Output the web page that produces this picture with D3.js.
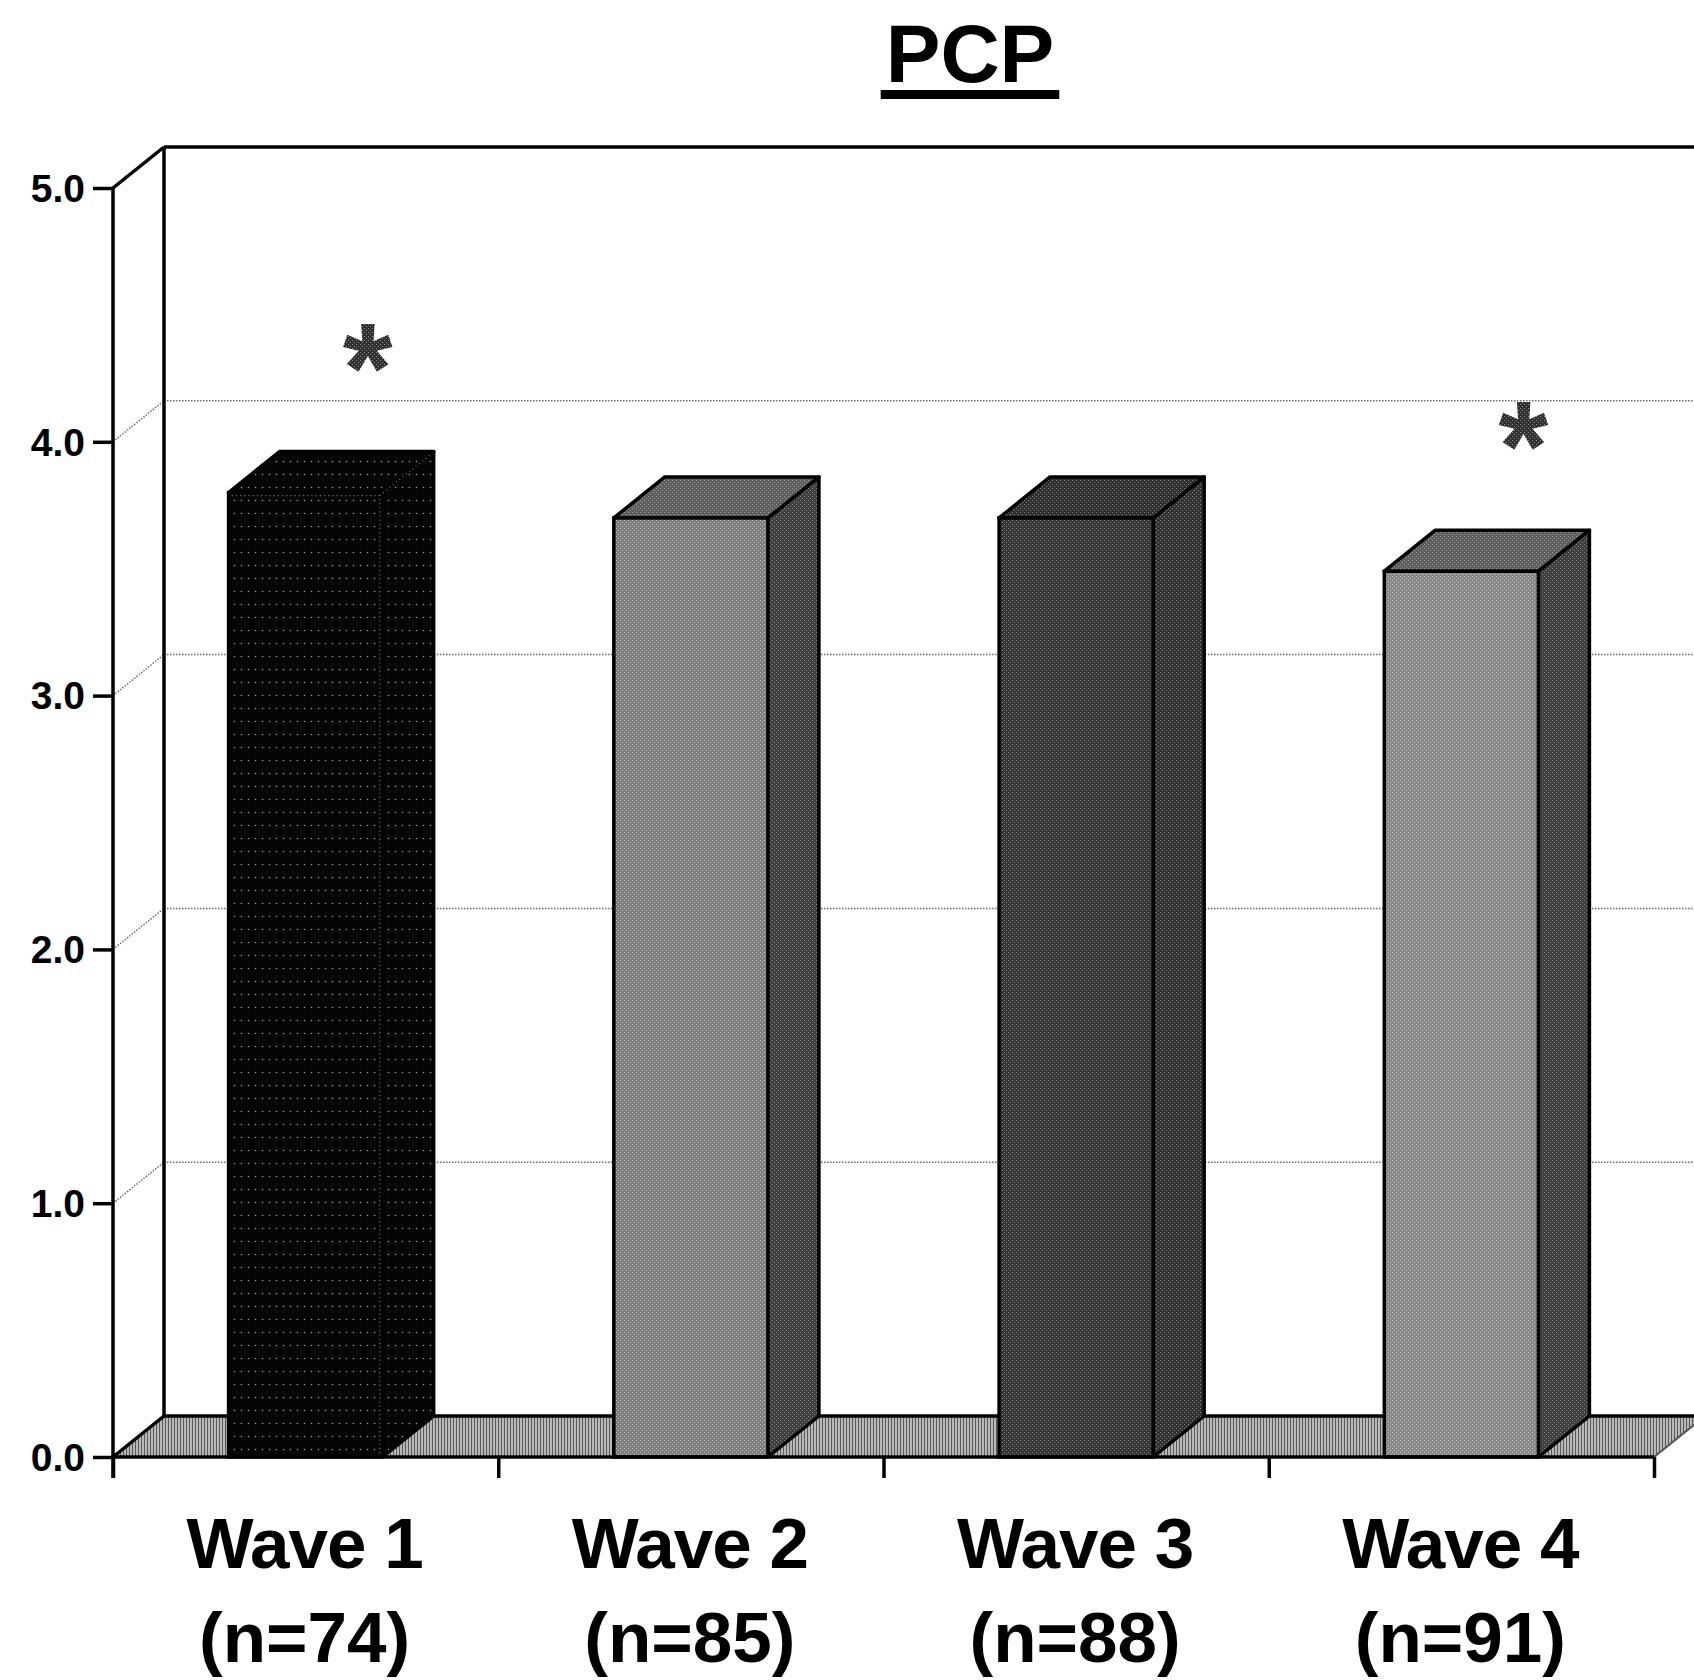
<!DOCTYPE html>
<html>
<head>
<meta charset="utf-8">
<script src="https://cdn.jsdelivr.net/npm/d3@7"></script>
<style>
  html, body { margin: 0; padding: 0; background: #fff; }
  svg { display: block; }
  text { font-family: "Liberation Sans", Arial, Helvetica, sans-serif; font-weight: bold; }
</style>
</head>
<body>
<div id="chart"></div>
<script>
// Mean PCP score by survey wave
const categories = ["Wave 1", "Wave 2", "Wave 3", "Wave 4"];
const sampleSizes = ["(n=74)", "(n=85)", "(n=88)", "(n=91)"];
const means = [3.80, 3.70, 3.70, 3.49];
const significant = [true, false, false, true];
const yTickValues = [0, 1, 2, 3, 4, 5];
const titleText = "PCP";

const width = 1694, height = 1680;
const depthX = 51, depthY = 41;   // oblique depth of the 3-D box
const edge = 3.5;                  // outline weight

const svg = d3.select("#chart").append("svg")
  .attr("width", width).attr("height", height);

const x = d3.scaleBand()
  .domain(categories)
  .range([113, 1654])
  .paddingInner(0.6)
  .paddingOuter(0.3);

const y = d3.scaleLinear().domain([0, 5]).range([1457, 188]);

// ---- fill patterns ----
const defs = svg.append("defs");

const floorPat = defs.append("pattern").attr("id", "floorPat")
  .attr("patternUnits", "userSpaceOnUse").attr("width", 3).attr("height", 3);
floorPat.append("rect").attr("width", 3).attr("height", 3).attr("fill", "#b8b8b8");
floorPat.append("rect").attr("width", 1).attr("height", 3).attr("fill", "#5a5a5a");

const darkPat = defs.append("pattern").attr("id", "darkPat")
  .attr("patternUnits", "userSpaceOnUse").attr("width", 7).attr("height", 13);
darkPat.append("rect").attr("width", 7).attr("height", 13).attr("fill", "#050505");
darkPat.append("circle").attr("cx", 3.5).attr("cy", 6.5).attr("r", 0.8).attr("fill", "#9a9a9a");

function speckle(id, bg, dot, step) {
  const p = defs.append("pattern").attr("id", id)
    .attr("patternUnits", "userSpaceOnUse").attr("width", step * 2).attr("height", step * 2);
  p.append("rect").attr("width", step * 2).attr("height", step * 2).attr("fill", bg);
  p.append("rect").attr("x", 0).attr("y", 0).attr("width", 1).attr("height", 1).attr("fill", dot);
  p.append("rect").attr("x", step).attr("y", step).attr("width", 1).attr("height", 1).attr("fill", dot);
}
speckle("lightFront", "#7e7e7e", "#c8c8c8", 2);
speckle("lightTop", "#5e5e5e", "#a0a0a0", 2);
speckle("lightSide", "#3e3e3e", "#8a8a8a", 2);
speckle("darkFront", "#343434", "#8a8a8a", 2);
speckle("darkTop", "#2e2e2e", "#8a8a8a", 2);
speckle("darkSide", "#303030", "#909090", 2);
speckle("lightFront4", "#888888", "#c8c8c8", 2);
speckle("starFill", "#303030", "#909090", 2);

const barFills = [
  { front: "url(#darkPat)", top: "url(#darkPat)", side: "url(#darkPat)", inner: "#6a6a6a" },
  { front: "url(#lightFront)", top: "url(#lightTop)", side: "url(#lightSide)", inner: "#000" },
  { front: "url(#darkFront)", top: "url(#darkTop)", side: "url(#darkSide)", inner: "#000" },
  { front: "url(#lightFront4)", top: "url(#lightTop)", side: "url(#lightSide)", inner: "#000" }
];

const x0 = x.range()[0], x1 = x.range()[1];
const yBase = y(0), yTop = y(5);

// ---- back wall gridlines and side-wall gridlines ----
const grid = svg.append("g");
yTickValues.filter(v => v > 0 && v < 5).forEach(v => {
  grid.append("line")
    .attr("x1", x0 + depthX).attr("x2", width)
    .attr("y1", y(v) - depthY).attr("y2", y(v) - depthY)
    .attr("stroke", "#6a6a6a").attr("stroke-width", 1.5)
    .attr("stroke-dasharray", "1.5,1.5");
  grid.append("line")
    .attr("x1", x0).attr("x2", x0 + depthX)
    .attr("y1", y(v)).attr("y2", y(v) - depthY)
    .attr("stroke", "#6a6a6a").attr("stroke-width", 1.5)
    .attr("stroke-dasharray", "1.5,1.5");
});

// ---- floor ----
svg.append("path")
  .attr("d", `M${x0},${yBase} L${x1},${yBase} L${x1 + depthX},${yBase - depthY} L${x0 + depthX},${yBase - depthY} Z`)
  .attr("fill", "url(#floorPat)").attr("stroke", "none");
svg.append("line")
  .attr("x1", x0 + depthX).attr("x2", width)
  .attr("y1", yBase - depthY).attr("y2", yBase - depthY)
  .attr("stroke", "#000").attr("stroke-width", edge);
svg.append("line")
  .attr("x1", x0).attr("x2", x0 + depthX)
  .attr("y1", yBase).attr("y2", yBase - depthY)
  .attr("stroke", "#000").attr("stroke-width", edge);
svg.append("line")
  .attr("x1", x1).attr("x2", x1 + depthX)
  .attr("y1", yBase).attr("y2", yBase - depthY)
  .attr("stroke", "#555").attr("stroke-width", 2);

// ---- walls ----
svg.append("line")
  .attr("x1", x0 + depthX).attr("x2", x0 + depthX)
  .attr("y1", yTop - depthY).attr("y2", yBase - depthY)
  .attr("stroke", "#000").attr("stroke-width", edge);
svg.append("line")
  .attr("x1", x0 + depthX).attr("x2", width)
  .attr("y1", yTop - depthY).attr("y2", yTop - depthY)
  .attr("stroke", "#000").attr("stroke-width", edge);
svg.append("line")
  .attr("x1", x0).attr("x2", x0 + depthX)
  .attr("y1", yTop).attr("y2", yTop - depthY)
  .attr("stroke", "#000").attr("stroke-width", edge);

// ---- 3-D columns ----
const bars = svg.append("g").selectAll("g")
  .data(categories.map((c, i) => ({ c, v: means[i], i })))
  .join("g");

bars.each(function (d) {
  const g = d3.select(this);
  const bx0 = x(d.c), bx1 = x(d.c) + x.bandwidth();
  const by = y(d.v);
  const fills = barFills[d.i];
  // side face
  g.append("path")
    .attr("d", `M${bx1},${by} L${bx1 + depthX},${by - depthY} L${bx1 + depthX},${yBase - depthY} L${bx1},${yBase} Z`)
    .attr("fill", fills.side).attr("stroke", "#000").attr("stroke-width", edge)
    .attr("stroke-linejoin", "round");
  // top face
  g.append("path")
    .attr("d", `M${bx0},${by} L${bx1},${by} L${bx1 + depthX},${by - depthY} L${bx0 + depthX},${by - depthY} Z`)
    .attr("fill", fills.top).attr("stroke", "#000").attr("stroke-width", edge)
    .attr("stroke-linejoin", "round");
  // front face
  g.append("rect")
    .attr("x", bx0).attr("y", by)
    .attr("width", bx1 - bx0).attr("height", yBase - by)
    .attr("fill", fills.front).attr("stroke", "#000").attr("stroke-width", edge);
  // faint inner edges where faces meet (visible on the dark column)
  if (fills.inner !== "#000") {
    g.append("path")
      .attr("d", `M${bx0 + 3},${by + 3} L${bx1 - 3},${by + 3} L${bx1 - 3},${yBase - 3} M${bx1 - 3},${by + 3} L${bx1 + depthX - 3},${by - depthY + 3}`)
      .attr("fill", "none").attr("stroke", fills.inner).attr("stroke-width", 1.2)
      .attr("stroke-dasharray", "1.2,3");
  }
});

// ---- significance markers ----
const starSize = 128;
svg.append("g").selectAll("text")
  .data(categories.map((c, i) => ({ c, v: means[i], s: significant[i] })).filter(d => d.s))
  .join("text")
  .attr("x", d => x(d.c) + x.bandwidth() / 2 + 62)
  .attr("y", d => y(d.v) - 152 + starSize * 0.555)
  .attr("text-anchor", "middle")
  .attr("font-size", starSize)
  .attr("fill", "url(#starFill)")
  .text("*");

// ---- axes ----
const yAxis = d3.axisLeft(y).tickValues(yTickValues)
  .tickFormat(d3.format(".1f")).tickSize(20).tickPadding(8);
const yg = svg.append("g").attr("transform", `translate(${x0},0)`).call(yAxis);
yg.select(".domain").attr("d", `M0,${yTop}V${yBase + 21}`).attr("stroke", "#000").attr("stroke-width", edge);
yg.selectAll(".tick line").attr("stroke", "#000").attr("stroke-width", edge);
yg.selectAll(".tick text")
  .attr("font-size", 39).attr("fill", "#000")
  .attr("font-family", "'Liberation Sans', Arial, sans-serif")
  .attr("font-weight", "bold")
  .attr("dy", "0.34em");

// category axis: ticks sit between the categories
const xBoundary = d3.scaleLinear().domain([0, categories.length]).range([x0, x1]);
const xAxis = d3.axisBottom(xBoundary).tickValues(d3.range(0, categories.length + 1))
  .tickSize(21).tickFormat("");
const xg = svg.append("g").attr("transform", `translate(0,${yBase})`).call(xAxis);
xg.select(".domain").attr("d", `M${x0},0H${x1}`).attr("stroke", "#000").attr("stroke-width", edge);
xg.selectAll(".tick line").attr("stroke", "#000").attr("stroke-width", edge);

// category labels, two lines each
const labels = svg.append("g").selectAll("g")
  .data(categories.map((c, i) => ({ c, n: sampleSizes[i] })))
  .join("g")
  .attr("transform", d => `translate(${x(d.c) + x.bandwidth() / 2 - 1},0)`);
labels.append("text").attr("y", 1568).attr("text-anchor", "middle")
  .attr("font-size", 71).attr("fill", "#000").attr("letter-spacing", -1).text(d => d.c);
labels.append("text").attr("y", 1662).attr("text-anchor", "middle")
  .attr("font-size", 71).attr("fill", "#000").text(d => d.n);

// ---- title with underline ----
const title = svg.append("text")
  .attr("x", 970).attr("y", 82).attr("text-anchor", "middle")
  .attr("font-size", 82).attr("fill", "#000").text(titleText);
const tw = title.node().getComputedTextLength();
svg.append("rect")
  .attr("x", 970 - tw / 2 - 5).attr("y", 90)
  .attr("width", tw + 10).attr("height", 9).attr("fill", "#000");
</script>
</body>
</html>
